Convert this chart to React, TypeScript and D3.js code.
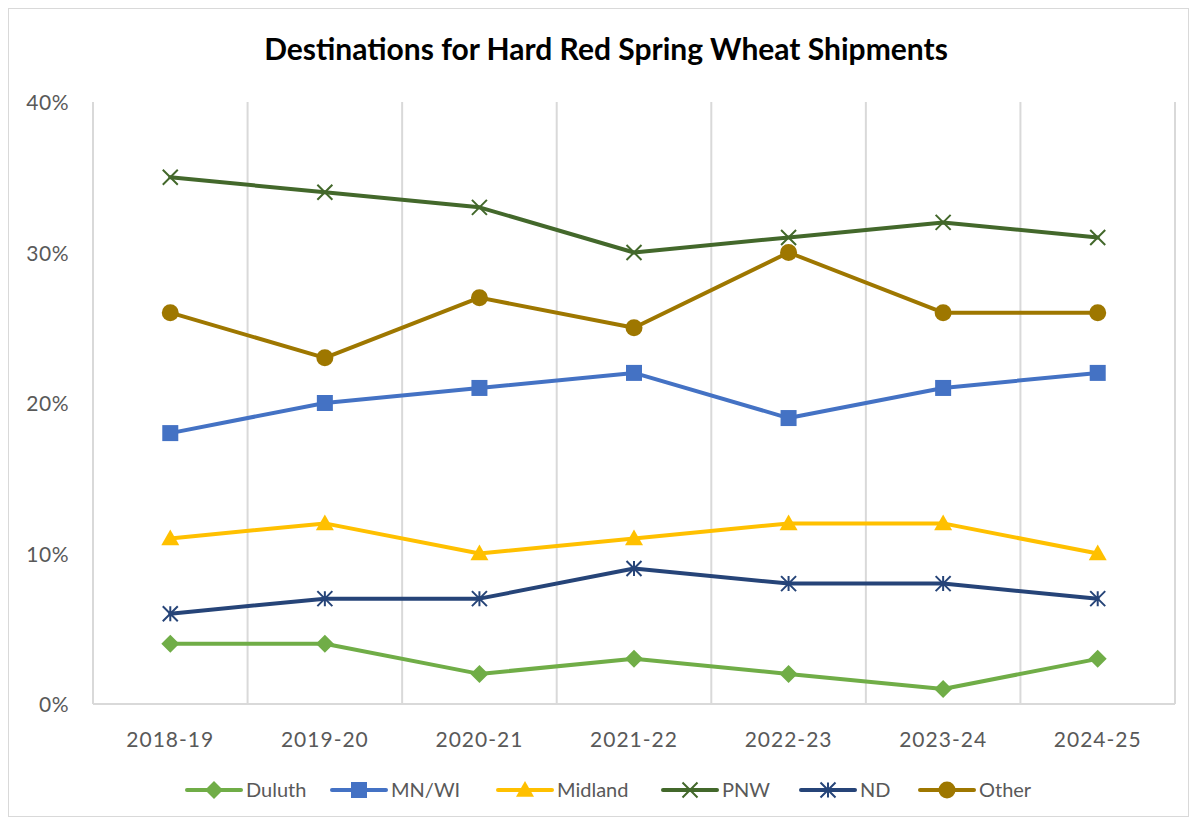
import React from "react";
import * as d3 from "d3";

const categories = ["2018-19", "2019-20", "2020-21", "2021-22", "2022-23", "2023-24", "2024-25"];
const duluth = [4, 4, 2, 3, 2, 1, 3];
const mnwi = [18, 20, 21, 22, 19, 21, 22];
const midland = [11, 12, 10, 11, 12, 12, 10];
const pnw = [35, 34, 33, 30, 31, 32, 31];
const nd = [6, 7, 7, 9, 8, 8, 7];
const other = [26, 23, 27, 25, 30, 26, 26];
const yTicks = [0, 10, 20, 30, 40];

const seriesNames = ["Duluth", "MN/WI", "Midland", "PNW", "ND", "Other"];
const seriesValues = [duluth, mnwi, midland, pnw, nd, other];
const seriesColors = ["#70AD47", "#4472C4", "#FFC000", "#43682B", "#264478", "#9E7700"];
const seriesMarkers = ["diamond", "square", "triangle", "x", "star", "circle"];

const FONT = "'Lato', 'Noto Sans', sans-serif";

function Marker({ type, x, y, color }: { type: string; x: number; y: number; color: string }) {
  if (type === "diamond") {
    const s = 9;
    return <path d={`M${x},${y - s}L${x + s},${y}L${x},${y + s}L${x - s},${y}Z`} fill={color} />;
  }
  if (type === "square") {
    const s = 8;
    return <rect x={x - s} y={y - s} width={2 * s} height={2 * s} fill={color} />;
  }
  if (type === "triangle") {
    const s = 9;
    return <path d={`M${x},${y - s}L${x + s},${y + s * 0.75}L${x - s},${y + s * 0.75}Z`} fill={color} />;
  }
  if (type === "x") {
    const s = 7.5;
    return (
      <path d={`M${x - s},${y - s}L${x + s},${y + s}M${x - s},${y + s}L${x + s},${y - s}`} stroke={color} strokeWidth={2} />
    );
  }
  if (type === "star") {
    const s = 7.5;
    return (
      <path
        d={`M${x - s},${y - s}L${x + s},${y + s}M${x - s},${y + s}L${x + s},${y - s}M${x},${y - s}L${x},${y + s}`}
        stroke={color}
        strokeWidth={2}
      />
    );
  }
  return <circle cx={x} cy={y} r={8.5} fill={color} />;
}

export default function App() {
  const W = 1196;
  const H = 824;
  const left = 93;
  const right = 1175;
  const top = 102;
  const bottom = 704;

  const x = d3.scaleBand<string>().domain(categories).range([left, right]).padding(0);
  const y = d3.scaleLinear().domain([0, 40]).range([bottom, top]);
  const cx = (c: string) => (x(c) as number) + x.bandwidth() / 2;

  const line = d3
    .line<number>()
    .x((_, i) => cx(categories[i]))
    .y((d) => y(d));

  const legendX = [187, 332, 498, 663, 801, 920];
  const legendY = 790;

  return (
    <svg width={W} height={H} style={{ position: "absolute", left: 0, top: 0 }}>
      <rect x={0} y={0} width={W} height={H} fill="#fff" />
      <rect x={8.5} y={8.5} width={1180} height={808} fill="#fff" stroke="#d9d9d9" strokeWidth={1} />
      <text x={606} y={60} textAnchor="middle" fontFamily={FONT} fontWeight={700} fontSize={30} fill="#000">
        Destinations for Hard Red Spring Wheat Shipments
      </text>
      {categories.map((c, i) => (
        <line key={"g" + i} x1={x(c) as number} x2={x(c) as number} y1={top} y2={bottom} stroke="#d9d9d9" strokeWidth={2} />
      ))}
      <line x1={right} x2={right} y1={top} y2={bottom} stroke="#d9d9d9" strokeWidth={2} />
      <line x1={left} x2={right} y1={bottom} y2={bottom} stroke="#d9d9d9" strokeWidth={2} />
      {yTicks.map((t) => (
        <text key={"y" + t} x={69} y={y(t) + 8} textAnchor="end" fontFamily={FONT} fontSize={21} fill="#595959" letterSpacing={0.5}>
          {t}%
        </text>
      ))}
      {categories.map((c) => (
        <text key={"x" + c} x={cx(c)} y={747} textAnchor="middle" fontFamily={FONT} fontSize={21} fill="#595959" letterSpacing={1}>
          {c}
        </text>
      ))}
      {seriesValues.map((vals, si) => (
        <g key={"s" + si}>
          <path d={line(vals) || ""} fill="none" stroke={seriesColors[si]} strokeWidth={4} strokeLinejoin="round" strokeLinecap="round" />
          {vals.map((v, i) => (
            <Marker key={i} type={seriesMarkers[si]} x={cx(categories[i])} y={y(v)} color={seriesColors[si]} />
          ))}
        </g>
      ))}
      {seriesNames.map((n, si) => (
        <g key={"l" + si}>
          <line x1={legendX[si]} x2={legendX[si] + 54} y1={legendY} y2={legendY} stroke={seriesColors[si]} strokeWidth={4} strokeLinecap="round" />
          <Marker type={seriesMarkers[si]} x={legendX[si] + 27} y={legendY} color={seriesColors[si]} />
          <text x={legendX[si] + 59} y={legendY + 7} fontFamily={FONT} fontSize={20} fill="#595959">
            {n}
          </text>
        </g>
      ))}
    </svg>
  );
}
